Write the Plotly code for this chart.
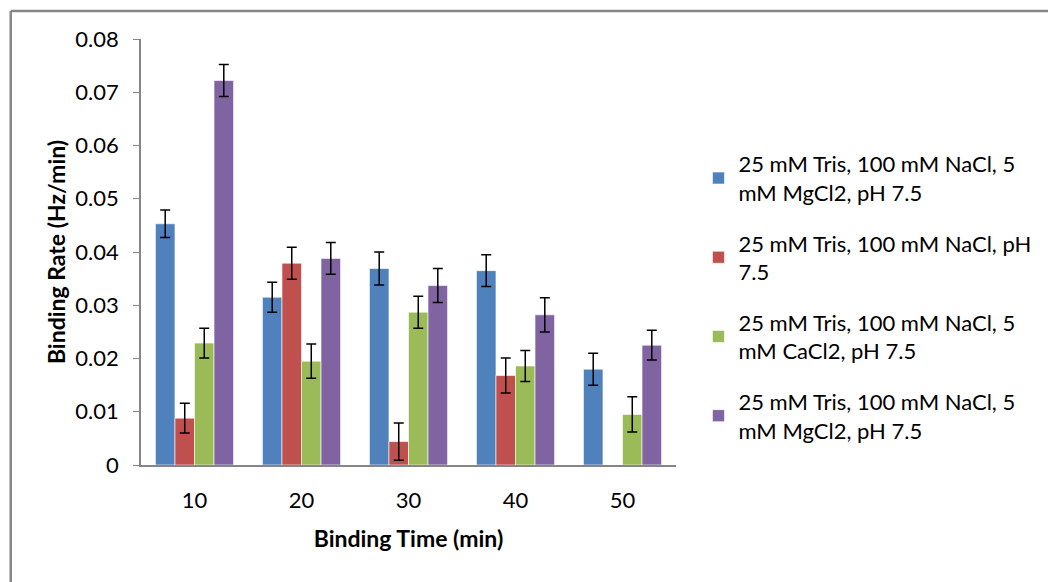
import plotly.graph_objects as go

categories = ["10", "20", "30", "40", "50"]
series_names = [
    "25 mM Tris, 100 mM NaCl, 5<br>mM MgCl2, pH 7.5",
    "25 mM Tris, 100 mM NaCl, pH<br>7.5",
    "25 mM Tris, 100 mM NaCl, 5<br>mM CaCl2, pH 7.5",
    "25 mM Tris, 100 mM NaCl, 5<br>mM MgCl2, pH 7.5",
]
mgcl2_a = [0.0453, 0.0315, 0.0369, 0.0365, 0.0180]
no_salt = [0.0088, 0.0379, 0.0044, 0.0168, None]
cacl2 = [0.0229, 0.0195, 0.0287, 0.0186, 0.0095]
mgcl2_b = [0.0722, 0.0388, 0.0337, 0.0282, 0.0225]
err_mgcl2_a = [0.0026, 0.0028, 0.0031, 0.0030, 0.0030]
err_no_salt = [0.0028, 0.0030, 0.0035, 0.0033, None]
err_cacl2 = [0.0028, 0.0032, 0.0030, 0.0029, 0.0033]
err_mgcl2_b = [0.0030, 0.0030, 0.0032, 0.0032, 0.0028]

colors = ["#4F81BD", "#C0504D", "#9BBB59", "#8064A2"]
values = [mgcl2_a, no_salt, cacl2, mgcl2_b]
errors = [err_mgcl2_a, err_no_salt, err_cacl2, err_mgcl2_b]

FONT = "Lato"
fig = go.Figure()
for i, (name, v, e, c) in enumerate(zip(series_names, values, errors, colors)):
    fig.add_trace(go.Bar(
        x=categories, y=v, name=name, legendgroup=f"g{i}",
        marker=dict(color=c, line=dict(color="rgba(255,255,255,0.6)", width=1)),
        error_y=dict(type="data", array=e, visible=True, color="black",
                     thickness=1.5, width=5),
    ))

fig.update_layout(
    width=1048, height=582,
    margin=dict(l=141, r=365, t=39, b=117),
    paper_bgcolor="white", plot_bgcolor="white",
    barmode="group", bargap=0.27, bargroupgap=0,
    font=dict(family=FONT, size=22, color="#000000"),
    legend=dict(x=1.042, y=0.756, xanchor="left", yanchor="top",
                traceorder="grouped", tracegroupgap=19,
                font=dict(family=FONT, size=22, color="#000000"),
                bgcolor="rgba(0,0,0,0)"),
    showlegend=True,
)
fig.update_xaxes(
    type="category", showline=True, linecolor="#868686", linewidth=1.5,
    ticks="", showgrid=False, ticklabelstandoff=15,
    title=dict(text="<b>Binding Time (min)</b>", font=dict(size=23), standoff=19),
)
fig.update_yaxes(
    range=[0, 0.08], dtick=0.01, showline=True, linecolor="#868686", linewidth=1.5,
    ticks="outside", ticklen=6, tickcolor="#868686", showgrid=False, zeroline=False,
    ticklabelstandoff=10,
    title=dict(text="<b>Binding Rate (Hz/min)</b>", font=dict(size=23), standoff=3),
)

# outer chart border (top and left edges visible)
fig.add_shape(type="line", xref="paper", yref="paper", x0=-0.2435, x1=2.0, y0=1.066, y1=1.066,
              line=dict(color="#868686", width=2.5))
fig.add_shape(type="line", xref="paper", yref="paper", x0=-0.2435, x1=-0.2435, y0=-1.0, y1=1.066,
              line=dict(color="#868686", width=2.5))

fig.write_html("out.html")
